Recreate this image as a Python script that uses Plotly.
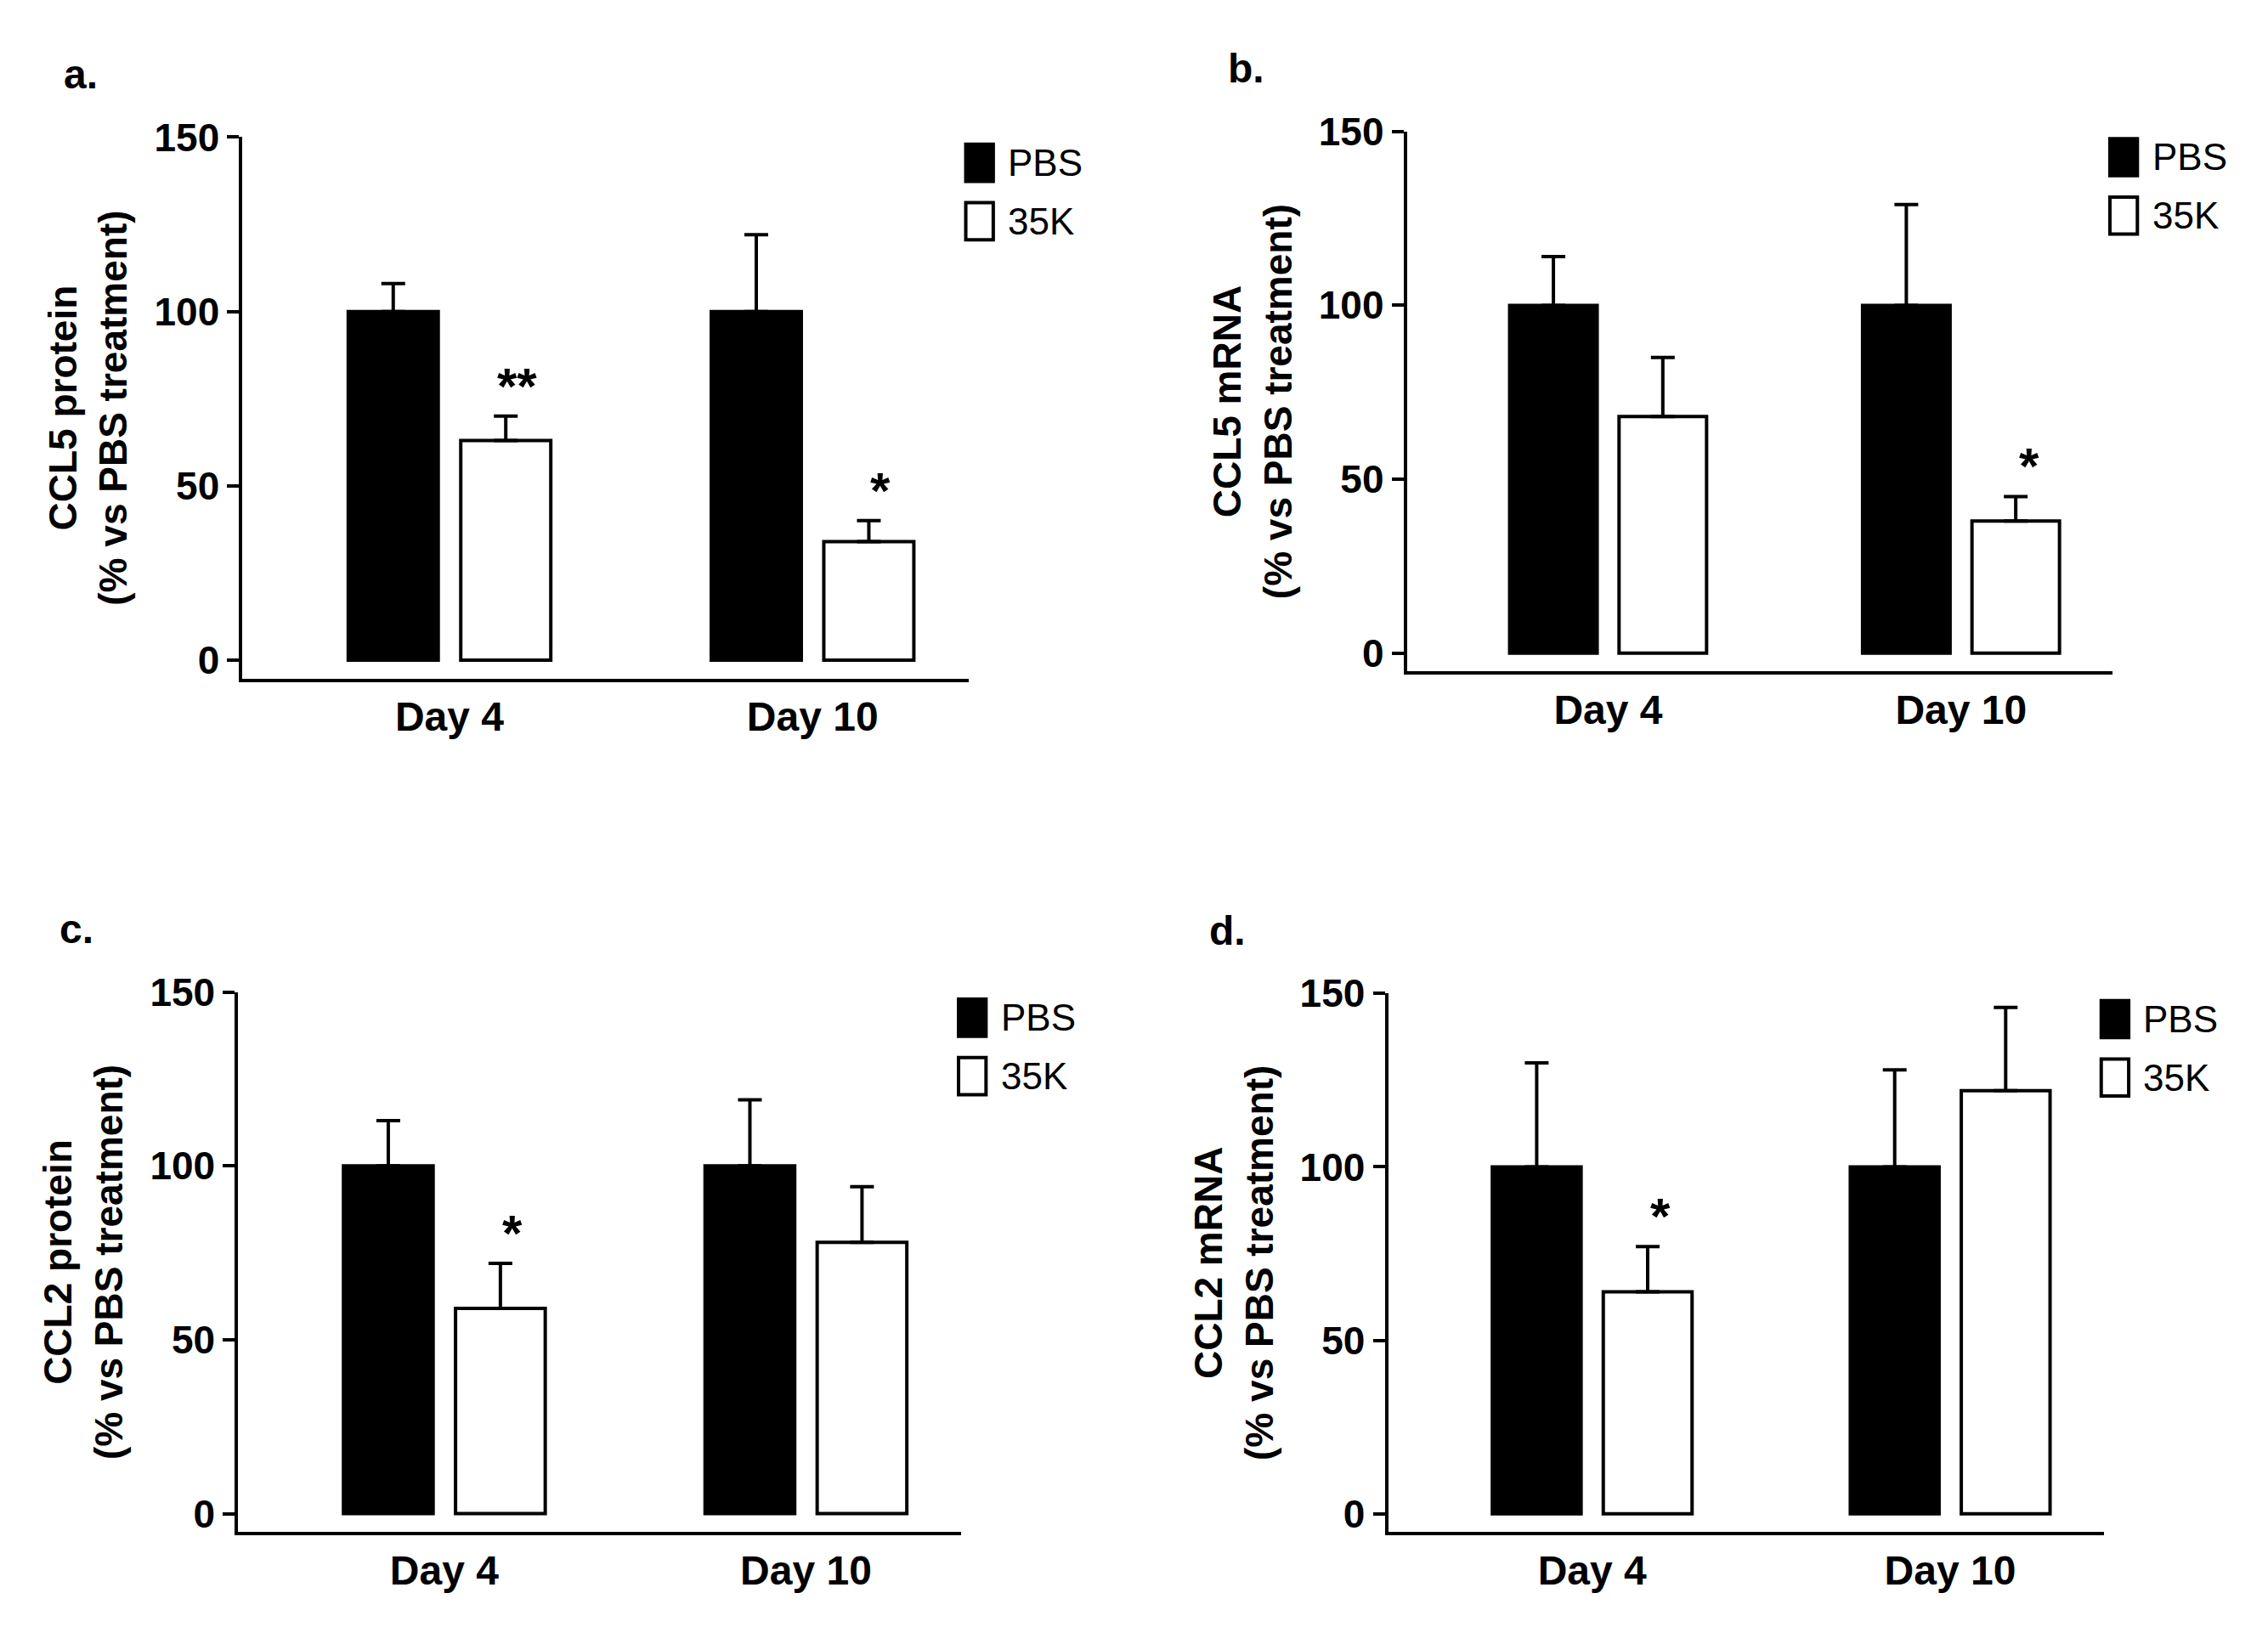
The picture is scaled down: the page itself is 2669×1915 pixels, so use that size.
import plotly.graph_objects as go

W, H = 2669, 1915

days = ['Day 4', 'Day 10']
groups = ['PBS', '35K']

# panel values: PBS mean, 35K mean, PBS sem, 35K sem, stars on 35K
panels = {
    'a': dict(title='CCL5 protein', pbs=[100, 100], k35=[63, 34],
              pbs_err=[8, 22], k35_err=[7, 6], stars=['**', '*']),
    'b': dict(title='CCL5 mRNA', pbs=[100, 100], k35=[68, 38],
              pbs_err=[14, 29], k35_err=[17, 7], stars=['', '*']),
    'c': dict(title='CCL2 protein', pbs=[100, 100], k35=[59, 78],
              pbs_err=[13, 19], k35_err=[13, 16], stars=['*', '']),
    'd': dict(title='CCL2 mRNA', pbs=[100, 100], k35=[64, 122],
              pbs_err=[30, 28], k35_err=[13, 24], stars=['*', '']),
}

# layout in reference display pixels: (x_left, x_right, y_top(150), y_bottom(axis line))
boxes = {
    'a': (163, 665, 76, 456),
    'b': (968, 1456, 72, 451),
    'c': (160, 660, 676, 1055),
    'd': (955, 1450, 677, 1055),
}

FONT = 'Liberation Sans'
fig = go.Figure()
shapes = []

for i, (key, p) in enumerate(panels.items()):
    n = '' if i == 0 else str(i + 1)
    xa, ya = 'x' + n, 'y' + n
    x0, x1, yt, yb = boxes[key]

    fig.add_trace(go.Bar(
        x=days, y=p['pbs'], name='PBS', xaxis=xa, yaxis=ya, showlegend=False,
        marker=dict(color='black', line=dict(color='black', width=4)),
        error_y=dict(type='data', symmetric=False, array=p['pbs_err'],
                     arrayminus=[0, 0], color='black', thickness=4, width=14)))
    fig.add_trace(go.Bar(
        x=days, y=p['k35'], name='35K', xaxis=xa, yaxis=ya, showlegend=False,
        marker=dict(color='white', line=dict(color='black', width=4)),
        error_y=dict(type='data', symmetric=False, array=p['k35_err'],
                     arrayminus=[0, 0], color='black', thickness=4, width=14)))

    dom_x = [x0 / 1568, x1 / 1568]
    dom_y = [1 - yb / 1124, 1 - yt / 1124]
    fig.layout['xaxis' + n] = dict(
        domain=dom_x, anchor=ya, type='category', range=[-0.57, 1.43],
        showline=True, linecolor='black', linewidth=4, ticks='',
        tickfont=dict(family=FONT, size=48, color='black', weight='bold'))
    fig.layout['yaxis' + n] = dict(
        domain=dom_y, anchor=xa, range=[-5.3, 150], tickvals=[0, 50, 100, 150],
        showline=True, linecolor='black', linewidth=4, showgrid=False,
        zeroline=False, ticks='outside', ticklen=14, tickwidth=4, tickcolor='black',
        tickfont=dict(family=FONT, size=46, color='black', weight='bold'),
        title=dict(text=p['title'] + '<br>(% vs PBS treatment)', standoff=18,
                   font=dict(family=FONT, size=46, color='black', weight='bold')))

    # legend squares + labels
    lx = (x1 - 2) / 1568
    for j, (g, col) in enumerate(zip(groups, ['black', 'white'])):
        cy = 1 - (yt + 18 + j * 41) / 1124
        shapes.append(dict(type='rect', xref='paper', yref='paper',
                           x0=lx, x1=lx + 19 / 1568, y0=cy - 13 / 1124, y1=cy + 13 / 1124,
                           fillcolor=col, line=dict(color='black', width=4)))
        fig.add_annotation(x=lx + 28 / 1568, y=cy, xref='paper', yref='paper', text=g,
                           showarrow=False, xanchor='left', yanchor='middle',
                           font=dict(family=FONT, size=44, color='black'))

    for d, st, v, e in zip(days, p['stars'], p['k35'], p['k35_err']):
        if st:
            fig.add_annotation(x=d, y=v + e, xref=xa, yref=ya, text=st,
                               xshift=80, yshift=0, yanchor='bottom', showarrow=False,
                               font=dict(family=FONT, size=60, color='black', weight='bold'))

    fig.add_annotation(x=(x0 - 125) / 1568, y=1 - (yt - 44) / 1124, xref='paper', yref='paper',
                       text=key + '.', showarrow=False, xanchor='left', yanchor='middle',
                       font=dict(family=FONT, size=48, color='black', weight='bold'))

fig.update_layout(width=W, height=H, barmode='group', bargap=0.38, bargroupgap=0.2,
                  plot_bgcolor='white', paper_bgcolor='white', shapes=shapes,
                  showlegend=False, margin=dict(l=0, r=0, t=0, b=0))
fig.write_html('out.html')
